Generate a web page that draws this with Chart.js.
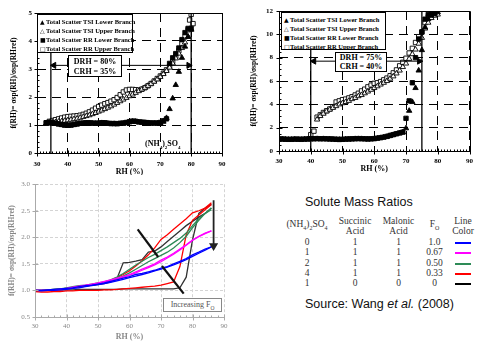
<!DOCTYPE html>
<html lang="en">
<head>
<meta charset="UTF-8">
<title>f(RH) hygroscopic growth</title>
<script src="https://cdn.jsdelivr.net/npm/chart.js"></script>
<style>
  body { margin: 0; width: 479px; height: 342px; overflow: hidden; position: relative; background: #fff; font-family: 'Liberation Serif', serif; }
  canvas { position: absolute; }
  #c1 { left: 0; top: 0; }
  #c2 { left: 240px; top: 0; }
  #c3 { left: 0; top: 175px; background: #fff; }
  .lg { position: absolute; background: #fff; border: 1px solid #000; box-sizing: border-box; font: bold 6.5px 'Liberation Serif', serif; padding: 2px 0 0 2px; }
  .lg div { height: 9px; line-height: 9px; white-space: nowrap; }
  .lg span { font: 6px 'DejaVu Sans', sans-serif; display: inline-block; width: 6px; }
  .box { position: absolute; background: #fff; border: 1px solid #000; box-sizing: border-box; font: bold 8px 'Liberation Serif', serif; text-align: center; line-height: 9.5px; padding-top: 1px; }
  .lbl { position: absolute; font: bold 8px 'Liberation Serif', serif; white-space: nowrap; }
  .incr { position: absolute; border: 1px solid #888; box-sizing: border-box; font: 8px 'Liberation Serif', serif; color: #555; text-align: center; line-height: 12px; background: #fff; }
  .head { position: absolute; font: 12.5px 'Liberation Sans', Arial, sans-serif; color: #111; white-space: nowrap; }
  #tbl { position: absolute; left: 284px; top: 217px; border-collapse: collapse; font: 9.5px 'Liberation Serif', serif; color: #333; }
  #tbl td { padding: 0; text-align: center; height: 10.3px; line-height: 10px; }
  #tbl thead td { line-height: 9.5px; padding-bottom: 1px; }
  .sw { display: inline-block; width: 16px; height: 2px; vertical-align: middle; }
</style>
</head>
<body>
<canvas id="c1" width="240" height="180"></canvas>
<canvas id="c2" width="239" height="174"></canvas>
<canvas id="c3" width="240" height="167"></canvas>

<div class="lg" style="left:37px; top:14px; width:96px; height:39px;">
  <div><span>▲</span>Total Scatter TSI Lower Branch</div>
  <div><span>△</span>Total Scatter TSI Upper Branch</div>
  <div><span>■</span>Total Scatter RR Lower Branch</div>
  <div><span>□</span>Total Scatter RR Upper Branch</div>
</div>
<div class="box" style="left:68px; top:55px; width:54px; height:22px;">DRH = 80%<br>CRH = 35%</div>
<div class="lbl" style="left:145px; top:139px;">(NH<sub style="font-size:5px">4</sub>)<sub style="font-size:5px">2</sub>SO<sub style="font-size:5px">4</sub></div>

<div class="lg" style="left:281px; top:12px; width:105px; height:38px;">
  <div><span>▲</span>Total Scatter TSI Lower Branch</div>
  <div><span>△</span>Total Scatter TSI Upper Branch</div>
  <div><span>■</span>Total Scatter RR Lower Branch</div>
  <div><span>□</span>Total Scatter RR Upper Branch</div>
</div>
<div class="box" style="left:335px; top:52px; width:52px; height:20px; line-height:8.5px;">DRH = 75%<br>CRH = 40%</div>

<div class="incr" style="left:163px; top:298px; width:59px; height:14px;">Increasing F<sub style="font-size:5.5px">O</sub></div>

<div class="head" style="left:305px; top:195px;">Solute Mass Ratios</div>
<table id="tbl">
  <thead>
    <tr>
      <td style="width:46px">(NH<sub style="font-size:6px">4</sub>)<sub style="font-size:6px">2</sub>SO<sub style="font-size:6px">4</sub></td>
      <td style="width:50px">Succinic<br>Acid</td>
      <td style="width:37px">Malonic<br>Acid</td>
      <td style="width:35px">F<sub style="font-size:6px">O</sub></td>
      <td style="width:22px">Line<br>Color</td>
    </tr>
  </thead>
  <tbody id="rows"></tbody>
</table>
<div class="head" style="left:305px; top:297px;">Source: Wang <i>et al.</i> (2008)</div>

<script>
// ---- top-left: (NH4)2SO4 ----
const rh1Low = [33,34,35,36,37,38,39,40,41,42,43,44,45,46,47,48,49,50,51,52,53,54,55,56,57,58,59,60,61,62,63,64,65,66,67,68,69,70,71,72];
const tsiLow1 = [1.05,1.06,1.05,1.04,1.02,1.0,0.98,0.97,0.98,1.0,1.02,1.04,1.05,1.06,1.06,1.05,1.05,1.06,1.07,1.06,1.05,1.04,1.04,1.03,1.04,1.05,1.07,1.1,1.12,1.12,1.1,1.09,1.08,1.07,1.06,1.06,1.06,1.07,1.12,1.25];
const rrLow1 = [1.08,1.1,1.08,1.06,1.04,1.02,1.0,0.99,1.0,1.02,1.04,1.06,1.07,1.08,1.08,1.07,1.06,1.07,1.08,1.08,1.06,1.05,1.05,1.05,1.06,1.07,1.09,1.12,1.14,1.13,1.11,1.1,1.09,1.08,1.07,1.07,1.07,1.09,1.15,1.22];
const rh1Jump = [73,74,75,76,77,78,79,80];
const tsiJump1 = [1.57,1.95,2.43,2.9,3.4,3.8,4.15,4.42];
const rrJump1 = [3.2,3.4,3.55,3.75,4.05,4.3,4.45,4.45];
const rh1Up = [33,34,35,36,37,38,39,40,41,42,43,44,45,46,47,48,49,50,51,52,53,54,55,56,57,58,59,60,61,62,63,64,65,66,67,68,69,70,71,72,73,74,75,76,77,78,79,80];
const tsiUp1 = [1.05,1.07,1.09,1.1,1.12,1.13,1.15,1.17,1.19,1.21,1.23,1.26,1.29,1.32,1.35,1.39,1.43,1.48,1.52,1.57,1.62,1.67,1.73,1.79,1.85,1.91,1.97,2.03,2.09,2.15,2.21,2.27,2.33,2.4,2.47,2.55,2.63,2.72,2.82,2.93,3.05,3.2,3.38,3.55,3.75,3.95,4.15,4.4];
const rrUp1 = [1.08,1.13,1.16,1.19,1.22,1.25,1.28,1.3,1.31,1.32,1.33,1.35,1.38,1.42,1.47,1.53,1.6,1.66,1.71,1.76,1.8,1.85,1.9,1.98,2.08,2.18,2.25,2.27,2.27,2.26,2.25,2.28,2.33,2.4,2.48,2.57,2.66,2.75,2.85,2.97,3.1,3.27,3.45,3.65,3.9,4.15,4.4,4.95];
const rh1Extra = [79.5, 80.6];
const rrExtra1 = [4.75, 4.62];
const drh1 = 80, crh1 = 34.5, arrowY1 = 3.13;

// ---- top-right ----
const rh2 = [30,31,32,33,34,35,36,37,38,39,40,41,42,43,44,45,46,47,48,49,50,51,52,53,54,55,56,57,58,59,60,61,62,63,64,65,66,67,68,69,70,71,72,73,74,75,76,77,78,79,80];
const tsiLow2 = [0.98,1.0,0.99,0.97,0.98,1.0,0.99,0.98,1.0,1.0,1.02,1.02,1.03,1.02,1.03,1.02,1.02,1.0,0.98,0.97,0.98,1.0,1.0,1.01,1.03,1.03,1.03,1.02,1.01,1.02,1.03,
  1.08,1.12,1.17,1.22,1.3,1.38,1.45,1.52,1.6,1.95,3.45,4.2,5.4,6.9,8.65,10.6,11.3,11.6,11.8,11.9];
const rrLow2 = [1.02,1.03,1.01,1.0,1.0,1.02,1.01,1.0,1.02,1.03,1.05,1.05,1.06,1.05,1.05,1.04,1.03,1.02,1.0,0.99,1.0,1.02,1.03,1.04,1.05,1.06,1.05,1.04,1.03,1.04,1.06,
  1.1,1.14,1.19,1.25,1.33,1.4,1.48,1.55,1.62,2.8,4.3,5.85,8.0,9.6,10.2,11.3,11.7,11.7,11.8];
const rh2UpT = [42,43,44,45,46,47,48,49,50,51,52,53,54,55,56,57,58,59,60,61,62,63,64,65,66,67,68,69,70,71,72,73,74,75,76,77,78,79,80];
const tsiUp2 = [2.7,3.0,3.2,3.4,3.55,3.7,3.85,4.0,4.1,4.2,4.3,4.45,4.55,4.7,4.8,4.95,5.1,5.25,5.4,5.55,5.7,5.85,6.0,6.2,6.4,6.65,6.9,7.2,7.5,7.9,8.3,8.7,9.2,9.7,10.5,11.0,11.4,11.6,11.7];
const rh2UpS = [40,41,42,43,44,45,46,47,48,49,50,51,52,53,54,55,56,57,58,59,60,61,62,63,64,65,66,67,68,69,70,71,72,73,74,75,76,77,78,79];
const rrUp2 = [1.4,1.7,2.9,3.1,3.3,3.45,3.6,3.8,4.2,4.3,4.4,4.45,4.55,4.65,4.8,4.95,5.15,5.3,5.5,5.65,5.8,5.85,5.95,6.1,6.25,6.45,6.7,6.95,7.3,7.6,7.95,8.4,8.8,9.3,9.8,10.2,11.0,11.5,11.75,11.8];
const drh2 = 75, crh2 = 40, arrowY2 = 7.7;

// ---- bottom-left: mixtures ----
const rh3 = [30,32,34,36,38,40,42,44,46,48,50,52,54,56,58,60,62,64,66,68,70,72,74,76,78,80,82,84,86];
const blueUp = [1.0,1.0,1.01,1.02,1.03,1.04,1.05,1.07,1.09,1.1,1.12,1.14,1.17,1.2,1.23,1.26,1.3,1.32,1.35,1.38,1.42,1.45,1.5,1.55,1.6,1.67,1.72,1.78,1.82];
const blueLow = [1.0,0.99,1.0,1.0,1.01,1.02,1.04,1.05,1.07,1.09,1.11,1.13,1.15,1.18,1.21,1.24,1.27,1.3,1.33,1.37,1.4,1.44,1.48,1.53,1.58,1.64,1.7,1.76,1.82];
const magUp = [1.0,1.0,1.0,1.01,1.02,1.04,1.06,1.08,1.1,1.12,1.14,1.17,1.2,1.23,1.26,1.3,1.35,1.4,1.45,1.5,1.57,1.63,1.7,1.78,1.86,1.95,2.02,2.08,2.12];
const magLow = [1.0,1.0,1.0,1.01,1.02,1.03,1.05,1.07,1.09,1.11,1.13,1.15,1.18,1.21,1.25,1.29,1.33,1.38,1.43,1.48,1.54,1.61,1.68,1.76,1.85,1.94,2.01,2.07,2.12];
const greenUp = [1.0,1.0,1.01,1.02,1.03,1.05,1.07,1.09,1.1,1.12,1.14,1.16,1.2,1.25,1.32,1.4,1.48,1.55,1.62,1.68,1.75,1.82,1.9,1.98,2.08,2.22,2.35,2.45,2.52];
const greenLow = [1.0,1.0,1.0,1.01,1.02,1.03,1.05,1.07,1.09,1.11,1.13,1.15,1.18,1.22,1.27,1.33,1.4,1.47,1.54,1.6,1.66,1.72,1.8,1.9,2.02,2.18,2.32,2.45,2.55];
const redUp = [1.0,0.99,0.99,1.0,1.01,1.03,1.05,1.07,1.08,1.1,1.12,1.15,1.19,1.24,1.3,1.37,1.46,1.56,1.67,1.8,1.96,2.05,2.15,2.25,2.35,2.46,2.5,2.55,2.65];
const redLow = [0.98,0.97,0.97,0.98,0.98,0.99,0.99,1.0,1.0,1.0,1.0,1.01,1.01,1.02,1.03,1.04,1.05,1.06,1.07,1.08,1.1,1.13,1.16,1.45,2.05,2.32,2.42,2.52,2.62];
const blackUp = [1.0,1.0,1.01,1.02,1.03,1.04,1.05,1.06,1.08,1.1,1.11,1.13,1.16,1.22,1.52,1.53,1.55,1.58,1.72,1.74,1.82,1.92,2.02,2.12,2.22,2.3,2.38,2.45,2.55];
const blackLow = [1.0,1.0,1.0,1.01,1.01,1.01,1.01,1.02,1.02,1.02,1.02,1.02,1.02,1.02,1.03,1.03,1.03,1.03,1.03,1.03,1.03,1.03,1.03,1.05,1.25,1.95,2.45,2.55,2.62];
const trendX1 = [62.6, 69.1], trendY1 = [2.15, 1.63];
const trendX2 = [70.3, 77.2], trendY2 = [1.46, 0.94];
const downX = [86.7, 86.7], downY = [2.7, 1.84];

// ---- table ----
const ammSulfate = ['0','1','2','4','1'];
const succinic = ['1','1','1','1','0'];
const malonic = ['1','1','1','1','0'];
const fO = ['1.0','0.67','0.50','0.33','0'];
const lineColors = ['#0000ff','#ff00ff','#2e8b57','#ff0000','#000000'];

document.getElementById('rows').innerHTML = ammSulfate.map((a, i) =>
  `<tr><td>${a}</td><td>${succinic[i]}</td><td>${malonic[i]}</td><td>${fO[i]}</td><td><span class="sw" style="background:${lineColors[i]}"></span></td></tr>`
).join('');

const pts = (xs, ys) => xs.map((x, i) => ({ x, y: ys[i] }));

// frame, major ticks crossing the axes, small minor ticks inside
const frame = {
  id: 'frame',
  afterDatasetsDraw(chart, args, o) {
    const { ctx, chartArea: a, scales: { x, y } } = chart;
    const L = Math.round(a.left) + 0.5, B = Math.round(a.bottom) + 0.5;
    ctx.save();
    ctx.strokeStyle = o.color;
    ctx.lineWidth = 1;
    ctx.setLineDash([]);
    ctx.beginPath();
    if (o.box) {
      ctx.rect(L, Math.round(a.top) + 0.5, Math.round(a.right - a.left), Math.round(a.bottom - a.top));
    } else {
      ctx.moveTo(L, a.top); ctx.lineTo(L, B); ctx.lineTo(a.right, B);
    }
    for (let v = y.min; v <= y.max + 1e-6; v += o.yMajor) {
      const p = Math.round(y.getPixelForValue(v)) + 0.5;
      ctx.moveTo(L - 3, p); ctx.lineTo(L + 3, p);
    }
    for (let v = x.min; v <= x.max + 1e-6; v += o.xMajor) {
      const p = Math.round(x.getPixelForValue(v)) + 0.5;
      ctx.moveTo(p, B + 3); ctx.lineTo(p, B - 3);
    }
    if (o.xMinor) for (let v = x.min; v <= x.max + 1e-6; v += o.xMinor) {
      const p = Math.round(x.getPixelForValue(v)) + 0.5;
      ctx.moveTo(p, B); ctx.lineTo(p, B - 2);
    }
    if (o.yMinor) for (let v = y.min; v <= y.max + 1e-6; v += o.yMinor) {
      const p = Math.round(y.getPixelForValue(v)) + 0.5;
      ctx.moveTo(L, p); ctx.lineTo(L + 2, p);
    }
    ctx.stroke();
    ctx.restore();
  }
};

Chart.defaults.font.family = "'Liberation Serif', serif";

function makeOptions(c) {
  return {
    responsive: false,
    animation: false,
    layout: { padding: c.pad },
    plugins: { legend: { display: false }, tooltip: { enabled: false }, frame: c.frame },
    scales: {
      x: {
        type: 'linear', min: 30, max: 90,
        ticks: { stepSize: 10, color: c.tc, font: { size: 7, weight: c.bold }, padding: c.xpad, maxRotation: 0 },
        grid: { color: c.gc, drawTicks: false },
        border: { display: false, dash: c.dash },
        title: { display: true, text: 'RH (%)', color: c.tc, font: { size: 8, weight: 'bold' }, padding: 0 },
        afterFit: s => { s.height = c.xh; }
      },
      y: {
        min: c.ymin, max: c.ymax,
        ticks: { stepSize: c.ystep, color: c.tc, font: { size: 7, weight: c.bold }, padding: c.ypad, callback: c.fmt },
        grid: { color: c.gc, drawTicks: false },
        border: { display: false, dash: c.dash },
        title: { display: true, text: 'f(RH)= σsp(RH)/σsp(RHref)', color: c.tc, font: { size: 7.5, weight: 'bold' }, padding: 0 },
        afterFit: s => { s.width = c.yw; }
      }
    }
  };
}

const marker = (label, style, filled, xs, ys) => ({
  label, data: pts(xs, ys), pointStyle: style, pointRadius: 3.1, borderWidth: 0.9,
  borderColor: '#000', backgroundColor: filled ? '#000' : '#fff'
});
const vline = (x, ymax) => ({ data: pts([x, x], [0, ymax]), showLine: true, borderColor: '#000', borderWidth: 1.3, pointRadius: 0 });
const arrow = (x0, x1, y) => ({
  data: pts([x0, x1], [y, y]), showLine: true, borderColor: '#000', borderWidth: 1,
  pointStyle: 'triangle', pointRadius: 3.5, pointRotation: [-90, 90], backgroundColor: '#000'
});

new Chart(document.getElementById('c1'), {
  type: 'scatter',
  data: {
    datasets: [
      vline(crh1, 5), vline(drh1, 5), arrow(crh1 + 1, drh1 - 0.8, arrowY1),
      marker('Total Scatter TSI Lower Branch', 'triangle', true, rh1Low.concat(rh1Jump), tsiLow1.concat(tsiJump1)),
      marker('Total Scatter RR Lower Branch', 'rect', true, rh1Low.concat(rh1Jump), rrLow1.concat(rrJump1)),
      marker('Total Scatter TSI Upper Branch', 'triangle', false, rh1Up, tsiUp1),
      marker('Total Scatter RR Upper Branch', 'rect', false, rh1Up.concat(rh1Extra), rrUp1.concat(rrExtra1))
    ]
  },
  plugins: [frame],
  options: makeOptions({
    pad: { left: 10, top: 13, right: 18, bottom: 3 }, yw: 27, xh: 24, xpad: 7, ypad: 5,
    ymin: 0, ymax: 5, ystep: 1, fmt: v => v, tc: '#000', gc: '#000', dash: [9, 6], bold: 'bold',
    frame: { color: '#000', box: true, yMajor: 1, xMajor: 10, xMinor: 1, yMinor: 0.2 }
  })
});

new Chart(document.getElementById('c2'), {
  type: 'scatter',
  data: {
    datasets: [
      vline(crh2, 12), vline(drh2, 12), arrow(crh2 + 1, drh2 - 0.8, arrowY2),
      marker('Total Scatter TSI Lower Branch', 'triangle', true, rh2, tsiLow2),
      marker('Total Scatter RR Lower Branch', 'rect', true, rh2.slice(0, rrLow2.length), rrLow2),
      marker('Total Scatter TSI Upper Branch', 'triangle', false, rh2UpT, tsiUp2),
      marker('Total Scatter RR Upper Branch', 'rect', false, rh2UpS, rrUp2)
    ]
  },
  plugins: [frame],
  options: makeOptions({
    pad: { left: 10, top: 11, right: 7, bottom: 0 }, yw: 29, xh: 23, xpad: 6, ypad: 6,
    ymin: 0, ymax: 12, ystep: 2, fmt: v => v, tc: '#000', gc: '#000', dash: [9, 6], bold: 'bold',
    frame: { color: '#000', box: true, yMajor: 2, xMajor: 10, xMinor: 1, yMinor: 0.5 }
  })
});

const curve = (ys, color) => ({ data: pts(rh3, ys), showLine: true, borderColor: color, borderWidth: 1.3, pointRadius: 0 });
new Chart(document.getElementById('c3'), {
  type: 'scatter',
  data: {
    datasets: [
      { data: pts(trendX1, trendY1), showLine: true, borderColor: '#111', borderWidth: 2.2, pointRadius: 0 },
      { data: pts(trendX2, trendY2), showLine: true, borderColor: '#111', borderWidth: 2.2, pointRadius: 0 },
      { data: pts(downX, downY), showLine: true, borderColor: '#222', borderWidth: 1.8, pointStyle: 'triangle',
        pointRadius: [0, 3.5], pointRotation: 180, backgroundColor: '#222' },
      curve(blueUp, lineColors[0]), curve(blueLow, lineColors[0]),
      curve(magUp, lineColors[1]), curve(magLow, lineColors[1]),
      curve(greenUp, lineColors[2]), curve(greenLow, lineColors[2]),
      curve(redUp, lineColors[3]), curve(redLow, lineColors[3]),
      curve(blackUp, '#333'), curve(blackLow, '#333')
    ]
  },
  plugins: [frame],
  options: makeOptions({
    pad: { left: 8, top: 8, right: 16, bottom: 0 }, yw: 27, xh: 25, xpad: 5, ypad: 5,
    ymin: 0.5, ymax: 3, ystep: 0.5, fmt: v => v.toFixed(1), tc: '#888', gc: '#d4d4d4', dash: [3, 2], bold: 'normal',
    frame: { color: '#aaa', box: false, yMajor: 0.5, xMajor: 10, xMinor: 2 }
  })
});
</script>
</body>
</html>
